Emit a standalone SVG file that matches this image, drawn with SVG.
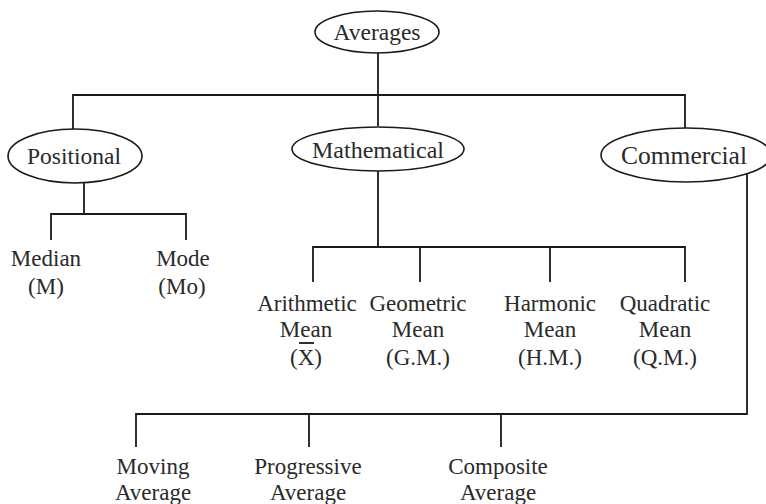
<svg xmlns="http://www.w3.org/2000/svg" width="766" height="504" viewBox="0 0 766 504">
<style>
.n ellipse{fill:#fff;stroke:#1a1a1a;stroke-width:1.6}
text{font-family:"Liberation Serif","Times New Roman",serif;fill:#2a2a2a;text-anchor:middle;font-size:23px}
.big{font-size:23.5px}
.mt{font-size:24px}
.cm{font-size:25.5px}
#connectors path,#connectors line{stroke:#1a1a1a;stroke-width:1.8;fill:none}
</style>
<rect width="766" height="504" fill="#fff"/>
<g id="connectors">
<line x1="378" y1="53" x2="378" y2="126"/>
<path d="M73,129 V95 H685 V128"/>
<path d="M84,183 V214 M51,240 V214 H186 V240"/>
<path d="M378,171 V247 M313,282 V247 H685 V282 M420,247 V282 M550,247 V282"/>
<path d="M747,174 V414 H136 V447 M309,414 V447 M501,414 V447"/>
</g>
<g id="averages" class="n"><ellipse cx="377" cy="32" rx="62" ry="21"/><text class="big" x="377" y="40">Averages</text></g>
<g id="positional" class="n"><ellipse cx="75" cy="156" rx="67" ry="27"/><text class="big" x="74" y="164">Positional</text></g>
<g id="mathematical" class="n"><ellipse cx="378" cy="149" rx="86" ry="22"/><text class="mt" x="378" y="158">Mathematical</text></g>
<g id="commercial" class="n"><ellipse cx="686" cy="155" rx="85" ry="27"/><text class="cm" x="684" y="164">Commercial</text></g>
<g id="median"><text x="46" y="266">Median</text><text x="46" y="294">(M)</text></g>
<g id="mode"><text x="183" y="266">Mode</text><text x="182" y="294">(Mo)</text></g>
<g id="am"><text x="307" y="311">Arithmetic</text><text x="306" y="337">Mean</text><text x="306" y="365">(X)</text><line x1="299" y1="343" x2="314" y2="343" stroke="#1a1a1a" stroke-width="1.8"/></g>
<g id="gm"><text x="418" y="311">Geometric</text><text x="418" y="337">Mean</text><text x="418" y="365">(G.M.)</text></g>
<g id="hm"><text x="550" y="311">Harmonic</text><text x="550" y="337">Mean</text><text x="550" y="365">(H.M.)</text></g>
<g id="qm"><text x="665" y="311">Quadratic</text><text x="665" y="337">Mean</text><text x="665" y="365">(Q.M.)</text></g>
<g id="moving"><text x="153" y="474">Moving</text><text x="153" y="500">Average</text></g>
<g id="progressive"><text x="308" y="474">Progressive</text><text x="308" y="500">Average</text></g>
<g id="composite"><text x="498" y="474">Composite</text><text x="498" y="500">Average</text></g>
</svg>
